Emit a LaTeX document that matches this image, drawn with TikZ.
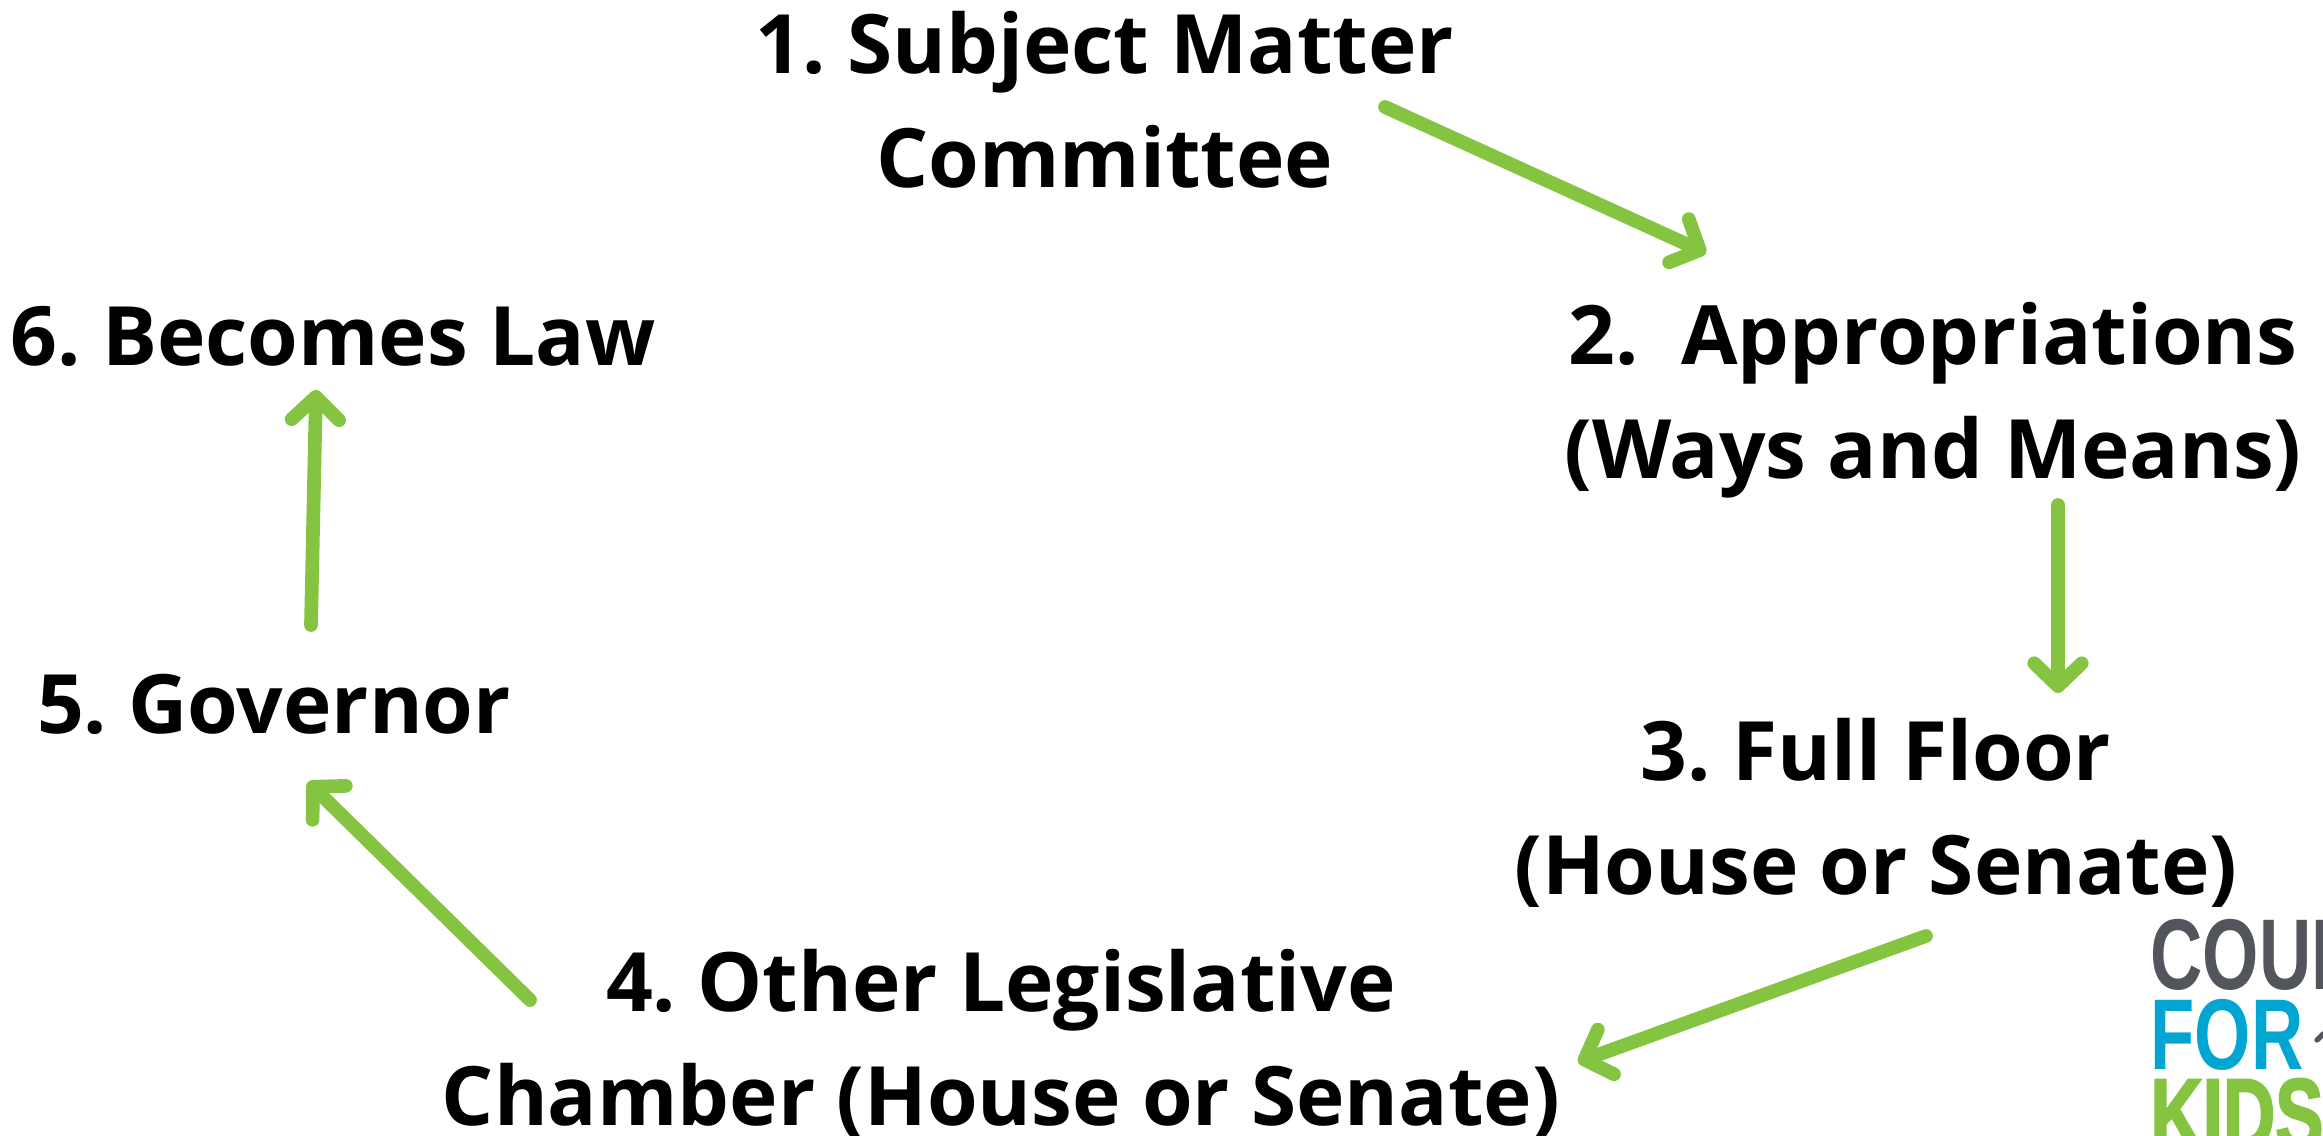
\documentclass[tikz,border=0pt]{standalone}
\usepackage{fontspec}
\setmainfont{Open Sans}
\newfontfamily\logofont{Liberation Sans}
\newfontfamily\kidsfont[BoldFeatures={FakeBold=2.5}]{Liberation Sans}
\usetikzlibrary{arrows.meta}
\definecolor{arrowgreen}{HTML}{84C441}
\definecolor{logogray}{HTML}{52565C}
\definecolor{logoblue}{HTML}{00A5D2}
\tikzstyle{stage} = [align=center,inner sep=0pt,font=\fontsize{23.3}{32.5}\selectfont\bfseries\frenchspacing,text=black]
\tikzstyle{arrowdecorate} = [-{Straight Barb[length=6.5pt,width=13.5pt,line width=0pt 1,line cap=round,round]},line width=3.9pt,line cap=round,arrowgreen]
\tikzstyle{logotext} = [anchor=base west,inner sep=0pt,font=\logofont\fontsize{28.6}{30}\selectfont\bfseries,xscale=0.72]

\begin{document}
\begin{tikzpicture}[x=0.01cm,y=-0.01cm]
  \useasboundingbox (0,0) rectangle (2323,1136);
  \clip (0,0) rectangle (2323,1136);
  %nodes
  \node[stage] (subject) at (1105,100) {1. Subject Matter\\Committee};
  \node[stage] (approp) at (1933,400) {2.\ \ Appropriations\\(Ways and Means)};
  \node[stage] (floor) at (1876,813) {3. Full Floor\\(House or Senate)};
  \node[stage] (other) at (1001,1044) {4. Other Legislative\\Chamber (House or Senate)};
  \node[stage] (governor) at (274,704) {5. Governor};
  \node[stage] (law) at (333,336) {6. Becomes Law};
  %arrow ends
  \foreach \name/\x/\y in {
    a/1385/107, b/1706/253, c/2058/505, d/2058/693, e/1926/936,
    f/1578/1062, g/530/1000, h/308/782, i/311/625, j/316/390}
  {
    \coordinate (\name) at (\x,\y);
  };
  %edges
  \foreach \startnode/\endnode in {a/b, c/d, e/f, g/h, i/j}
  {
    \draw[arrowdecorate] (\startnode) -- (\endnode);
  };
  %logo
  \node[logotext,text=logogray] (council) at (2150,989) {COUN};
  \node[logotext,text=logoblue] (forword) at (2150,1069) {FOR};
  \node[logotext,text=arrowgreen,font=\kidsfont\fontsize{28.6}{30}\selectfont\bfseries] (kids) at (2150,1149) {KIDS};
  \draw[logogray,line width=1.5pt,line cap=round] (2317,1040) -- (2323,1034);
\end{tikzpicture}
\end{document}
